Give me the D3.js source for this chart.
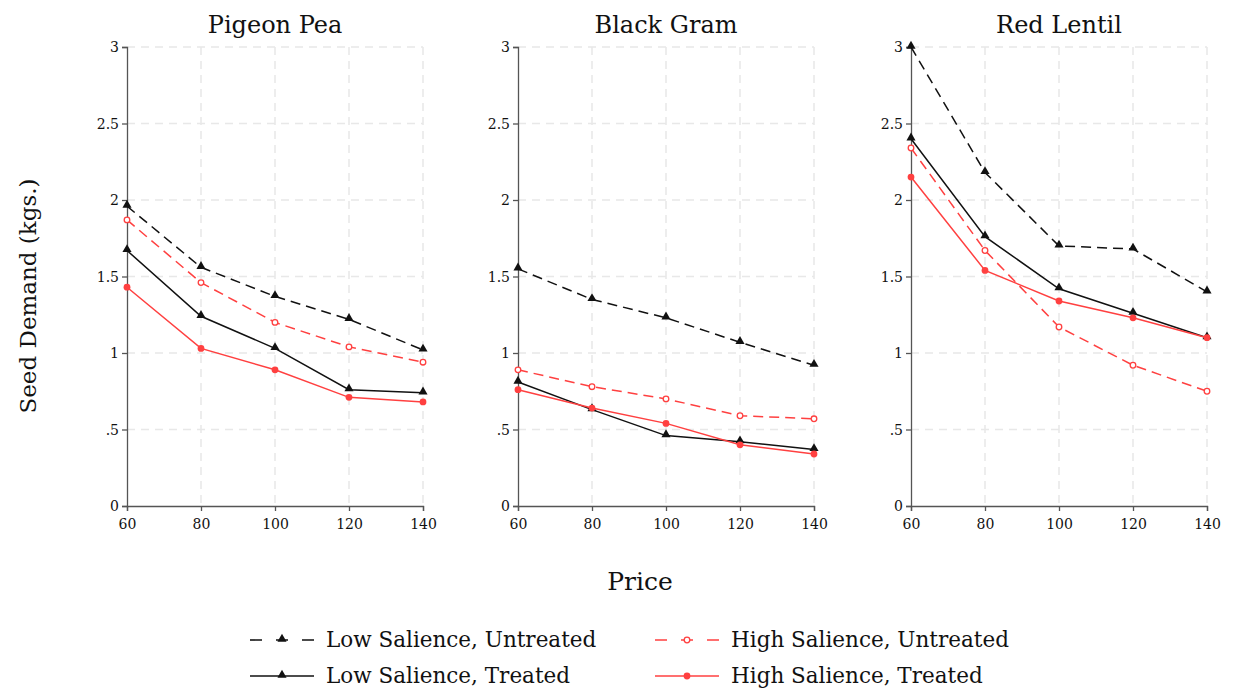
<!DOCTYPE html>
<html>
<head>
<meta charset="utf-8">
<script src="https://cdn.jsdelivr.net/npm/d3@7"></script>
<style>
  body { margin: 0; background: #fff; }
  text { font-family: "DejaVu Serif", "Liberation Serif", serif; fill: #111; }
</style>
</head>
<body>
<svg id="chart" width="1233" height="692"></svg>
<script>
// price levels and panels
var prices = [60, 80, 100, 120, 140];
var crops = ['Pigeon Pea', 'Black Gram', 'Red Lentil'];
var yTicks = [0, 0.5, 1, 1.5, 2, 2.5, 3];

// seed demand per crop, one array per group
var lowUntreated = [
    [1.96, 1.56, 1.37, 1.22, 1.02],
    [1.55, 1.35, 1.23, 1.07, 0.92],
    [3.00, 2.18, 1.70, 1.68, 1.40]
];
var highUntreated = [
    [1.87, 1.46, 1.20, 1.04, 0.94],
    [0.89, 0.78, 0.70, 0.59, 0.57],
    [2.34, 1.67, 1.17, 0.92, 0.75]
];
var lowTreated = [
    [1.67, 1.24, 1.03, 0.76, 0.74],
    [0.81, 0.63, 0.46, 0.42, 0.37],
    [2.40, 1.76, 1.42, 1.26, 1.10]
];
var highTreated = [
    [1.43, 1.03, 0.89, 0.71, 0.68],
    [0.76, 0.64, 0.54, 0.40, 0.34],
    [2.15, 1.54, 1.34, 1.23, 1.10]
];

var red = '#ff4040';
var series = [
    {name: 'Low Salience, Untreated', values: lowUntreated, color: '#111', dash: '10,6', marker: 'tri'},
    {name: 'High Salience, Untreated', values: highUntreated, color: red, dash: '10,6', marker: 'ring'},
    {name: 'Low Salience, Treated', values: lowTreated, color: '#111', dash: null, marker: 'tri'},
    {name: 'High Salience, Treated', values: highTreated, color: red, dash: null, marker: 'dot'}
];

var svg = d3.select('#chart');
var panelLeft = [127, 518, 911],
    panelWidth = 296,
    plotTop = 47,
    plotBottom = 506;

var y = d3.scaleLinear().domain([0, 3]).range([plotBottom, plotTop]);
var triangle = d3.symbol().type(d3.symbolTriangle).size(36);

var drawMarker = function(g, s, px, py) {
    if (s.marker === 'tri') {
        g.append('path').attr('d', triangle).attr('transform', 'translate(' + px + ',' + (py - 1) + ')')
            .attr('fill', s.color);
    } else if (s.marker === 'ring') {
        g.append('circle').attr('cx', px).attr('cy', py).attr('r', 2.8)
            .attr('fill', '#fff').attr('stroke', s.color).attr('stroke-width', 1.3);
    } else {
        g.append('circle').attr('cx', px).attr('cy', py).attr('r', 3.4).attr('fill', s.color);
    }
};

crops.forEach(function(crop, ci) {
    var x = d3.scaleLinear().domain([60, 140]).range([panelLeft[ci], panelLeft[ci] + panelWidth]);
    var g = svg.append('g');

    // grid
    g.selectAll('.hgrid').data(yTicks.slice(1)).enter().append('line')
        .attr('x1', x(60)).attr('x2', x(140))
        .attr('y1', function(d) { return y(d); }).attr('y2', function(d) { return y(d); })
        .attr('stroke', '#e8e8e8').attr('stroke-width', 1.5).attr('stroke-dasharray', '8,6');
    g.selectAll('.vgrid').data(prices.slice(1)).enter().append('line')
        .attr('x1', function(d) { return x(d); }).attr('x2', function(d) { return x(d); })
        .attr('y1', plotTop).attr('y2', plotBottom)
        .attr('stroke', '#e8e8e8').attr('stroke-width', 1.5).attr('stroke-dasharray', '8,6');

    // axes
    var yAxis = d3.axisLeft(y).tickValues(yTicks).tickSize(5)
        .tickFormat(function(d) { return d === 0 ? '0' : String(d).replace(/^0\./, '.'); });
    var gy = g.append('g').attr('transform', 'translate(' + x(60) + ',0)').call(yAxis);
    var xAxis = d3.axisBottom(x).tickValues(prices).tickSize(5);
    var gx = g.append('g').attr('transform', 'translate(0,' + plotBottom + ')').call(xAxis);
    [gy, gx].forEach(function(a) {
        a.select('.domain').attr('stroke', '#555').attr('stroke-width', 1.3);
        a.selectAll('.tick line').attr('stroke', '#555').attr('stroke-width', 1.3);
        a.selectAll('text').attr('font-size', 14).attr('fill', '#222')
            .style('font-family', '"DejaVu Serif", serif');
    });
    gy.selectAll('text').attr('dy', '0.35em');
    gx.selectAll('text').attr('dy', '1.05em');

    // title
    g.append('text').attr('x', x(100)).attr('y', 33).attr('text-anchor', 'middle')
        .attr('font-size', 24).text(crop);

    // lines
    var line = d3.line().x(function(d, i) { return x(prices[i]); }).y(function(d) { return y(d); });
    series.forEach(function(s) {
        g.append('path').datum(s.values[ci]).attr('d', line)
            .attr('fill', 'none').attr('stroke', s.color).attr('stroke-width', 1.5)
            .attr('stroke-dasharray', s.dash);
        s.values[ci].forEach(function(v, i) {
            drawMarker(g, s, x(prices[i]), y(v));
        });
    });
});

// axis titles
svg.append('text').attr('x', 640).attr('y', 590).attr('text-anchor', 'middle')
    .attr('font-size', 25).text('Price');
svg.append('text').attr('transform', 'translate(36,296) rotate(-90)').attr('text-anchor', 'middle')
    .attr('font-size', 23).text('Seed Demand (kgs.)');

// legend
var legendPos = [[250, 640], [655, 640], [250, 676], [655, 676]];
series.forEach(function(s, i) {
    var lx = legendPos[i][0], ly = legendPos[i][1];
    var lg = svg.append('g');
    lg.append('line').attr('x1', lx).attr('x2', lx + 64).attr('y1', ly).attr('y2', ly)
        .attr('stroke', s.color).attr('stroke-width', 1.6)
        .attr('stroke-dasharray', s.dash ? '12,14' : null);
    drawMarker(lg, s, lx + 32, ly);
    lg.append('text').attr('x', lx + 76).attr('y', ly + 7).attr('font-size', 21.5).text(s.name);
});
</script>
</body>
</html>
